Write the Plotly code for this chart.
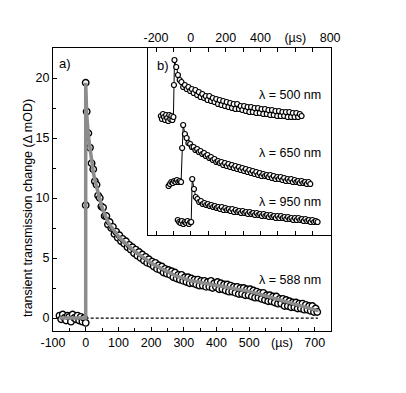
import plotly.graph_objects as go

# ---------------- main panel a) : lambda = 588 nm ----------------
t_base = [-80, -75, -70, -65, -60, -55, -50, -45, -40, -35, -30, -25, -20, -15, -10, -5]
v_base = [0.2, -0.1, 0.3, 0.0, -0.2, 0.2, 0.1, -0.3, 0.3, 0.0, -0.1, 0.2, -0.2, 0.1, -0.3, 0.0]
t_jump = [0, 0, 0]
v_jump = [-0.4, 9.4, 19.6]
v_decay = [
    17.2, 15.4, 14.2, 12.9, 12.4, 11.4, 11.1, 10.2, 10.0, 9.3,
    9.2, 8.5, 8.5, 7.8, 8.0, 7.5, 7.6, 7.0, 7.2, 6.7,
    6.9, 6.4, 6.6, 6.2, 6.4, 5.9, 6.1, 5.7, 5.9, 5.4,
    5.7, 5.2, 5.5, 5.0, 5.3, 4.8, 5.1, 4.6, 4.9, 4.5,
    4.7, 4.3, 4.6, 4.1, 4.4, 4.0, 4.3, 3.8, 4.1, 3.7,
    4.0, 3.6, 3.9, 3.4, 3.8, 3.3, 3.6, 3.2, 3.6, 3.1,
    3.4, 3.0, 3.4, 2.9, 3.3, 2.9, 3.2, 2.8, 3.2, 2.7,
    3.1, 2.7, 3.1, 2.6, 3.0, 2.6, 3.1, 2.5, 2.9, 2.6,
    3.0, 2.4, 2.9, 2.4, 2.8, 2.3, 2.8, 2.2, 2.7, 2.2,
    2.6, 2.1, 2.6, 2.0, 2.5, 2.0, 2.5, 1.9, 2.4, 1.9,
    2.4, 1.8, 2.3, 1.7, 2.2, 1.7, 2.1, 1.6, 2.1, 1.5,
    1.9, 1.4, 1.9, 1.4, 1.8, 1.3, 1.8, 1.2, 1.6, 1.2,
    1.6, 1.0, 1.5, 1.0, 1.4, 0.9, 1.3, 0.9, 1.3, 0.8,
    1.2, 0.8, 1.2, 0.7, 1.1, 0.7, 1.0, 0.6, 1.0, 0.5,
    0.8, 0.5,
]
t_decay = [3 + 5 * i for i in range(len(v_decay))]

t_fit = [-80, 0, 0, 3, 8, 13, 18, 23, 28, 33, 38, 43, 48, 53, 58, 63, 68, 73, 78, 83,
         88, 93, 98, 103, 113, 123, 133, 143, 153, 163, 173, 183, 193, 203, 213, 223,
         233, 243, 253, 263, 273, 283, 293, 303, 323, 343, 363, 383, 403, 423, 443,
         463, 483, 503, 523, 543, 563, 583, 603, 623, 643, 663, 683, 703, 712]
v_fit = [0, 0, 19.6, 17.0, 15.2, 14.0, 13.0, 12.2, 11.5, 10.9, 10.4, 9.9, 9.4, 9.0,
         8.6, 8.3, 8.0, 7.8, 7.6, 7.4, 7.2, 7.0, 6.85, 6.7, 6.45, 6.2, 5.95, 5.7, 5.5,
         5.3, 5.1, 4.9, 4.7, 4.55, 4.4, 4.25, 4.1, 3.95, 3.8, 3.7, 3.55, 3.45, 3.35,
         3.25, 3.1, 3.0, 2.9, 2.85, 2.75, 2.65, 2.5, 2.4, 2.3, 2.2, 2.05, 1.9, 1.75,
         1.6, 1.45, 1.3, 1.15, 1.0, 0.85, 0.7, 0.6]

t_zero = [0, 710]
v_zero = [0, 0]

main_xticks = [-100, 0, 100, 200, 300, 400, 500, 600, 700]
main_xtext = ["-100", "0", "100", "200", "300", "400", "500", "(µs)", "700"]
main_yticks = [0, 5, 10, 15, 20]

# ---------------- inset panel b) (arbitrary offset units) ----------------
t500_base = [-172, -166, -160, -154, -148, -142, -136, -130, -124, -118, -112, -106, -100, -97]
v500_base = [11.9, 11.6, 12.1, 11.8, 11.5, 12.0, 11.7, 11.4, 12.0, 11.6, 11.9, 11.5, 11.8, 15.0]
v500_decay = [
    17.5, 16.8, 16.0, 15.5, 15.3, 14.8, 15.0, 14.6, 14.8, 14.4,
    14.6, 14.2, 14.5, 14.0, 14.3, 13.8, 14.1, 13.7, 13.9, 13.5,
    13.9, 13.4, 13.7, 13.3, 13.6, 13.1, 13.5, 13.0, 13.4, 12.9,
    13.3, 12.8, 13.2, 12.7, 13.1, 12.6, 13.1, 12.6, 12.9, 12.5,
    12.9, 12.4, 12.8, 12.3, 12.8, 12.3, 12.7, 12.2, 12.7, 12.2,
    12.6, 12.1, 12.6, 12.1, 12.5, 12.0, 12.5, 12.0, 12.4, 11.9,
    12.4, 11.9, 12.3, 11.9, 12.3, 11.8, 12.3, 11.8, 12.2, 11.8,
    12.2, 11.8, 12.1, 11.9,
]
t500_decay = [-94 + 10 * i for i in range(len(v500_decay))]

t650_base = [-128, -120, -112, -104, -96, -88, -80, -72, -64, -56, -50]
v650_base = [4.9, 5.1, 5.3, 5.2, 5.4, 5.3, 5.5, 5.3, 5.4, 5.3, 8.7]
v650_decay = [
    11.0, 10.1, 9.7, 9.2, 9.1,
    8.8, 8.8, 8.5, 8.6, 8.3, 8.4, 8.1, 8.2, 7.9, 8.0,
    7.7, 7.8, 7.5, 7.6, 7.3, 7.4, 7.2, 7.3, 7.0, 7.2,
    6.9, 7.1, 6.8, 7.0, 6.7, 6.9, 6.6, 6.8, 6.5, 6.7,
    6.4, 6.6, 6.3, 6.5, 6.2, 6.4, 6.1, 6.3, 6.0, 6.2,
    5.9, 6.1, 5.9, 6.0, 5.8, 6.0, 5.7, 5.9, 5.6, 5.8,
    5.6, 5.8, 5.5, 5.7, 5.4, 5.6, 5.4, 5.6, 5.3, 5.5,
    5.3, 5.4, 5.2, 5.4, 5.2, 5.3, 5.1, 5.3, 5.1,
]
t650_decay = [-44 + 10 * i for i in range(len(v650_decay))]

t950_base = [-75, -67, -59, -51, -43, -35, -27, -19, -11, -3, 2]
v950_base = [1.5, 1.3, 1.2, 1.4, 1.1, 1.3, 1.2, 1.4, 1.1, 1.3, 1.3]
v950_decay = [
    5.6, 4.6, 3.8, 3.6, 3.3, 3.4, 3.1, 3.2, 3.0, 3.1,
    2.9, 3.0, 2.8, 2.9, 2.7, 2.8, 2.6, 2.8, 2.5, 2.7,
    2.5, 2.6, 2.4, 2.6, 2.3, 2.5, 2.3, 2.4, 2.2, 2.4,
    2.2, 2.3, 2.1, 2.3, 2.1, 2.2, 2.0, 2.2, 2.0, 2.1,
    1.9, 2.1, 1.9, 2.0, 1.8, 2.0, 1.8, 1.9, 1.7, 1.9,
    1.7, 1.9, 1.7, 1.8, 1.6, 1.8, 1.6, 1.7, 1.5, 1.7,
    1.5, 1.7, 1.5, 1.6, 1.4, 1.6, 1.4, 1.5, 1.3, 1.5,
    1.3, 1.4, 1.3,
]
t950_decay = [8 + 10 * i for i in range(len(v950_decay))]

inset_xticks = [-200, 0, 200, 400, 600, 800]
inset_xtext = ["-200", "0", "200", "400", "(µs)", "800"]

FONT = "Liberation Sans, Arial, sans-serif"
W, H = 406, 393


def px(x):
    return x / W


def py(y):
    return 1 - y / H


fig = go.Figure()

# main data
fig.add_trace(go.Scatter(
    x=t_base + t_jump + t_decay, y=v_base + v_jump + v_decay,
    mode="markers", xaxis="x", yaxis="y",
    marker=dict(symbol="circle", size=6.5, color="white",
                line=dict(color="black", width=1.4)),
    showlegend=False))
# zero line
fig.add_trace(go.Scatter(
    x=t_zero, y=v_zero, mode="lines", xaxis="x", yaxis="y",
    line=dict(color="black", width=1.2, dash="3px,2px"), showlegend=False))
# fit
fig.add_trace(go.Scatter(
    x=t_fit, y=v_fit, mode="lines", xaxis="x", yaxis="y",
    line=dict(color="#8c8c8c", width=3.5), showlegend=False))

# inset traces
for tb, vb, td, vd in [
    (t500_base, v500_base, t500_decay, v500_decay),
    (t650_base, v650_base, t650_decay, v650_decay),
    (t950_base, v950_base, t950_decay, v950_decay),
]:
    fig.add_trace(go.Scatter(
        x=tb + td, y=vb + vd, mode="lines+markers", xaxis="x2", yaxis="y2",
        line=dict(color="black", width=1),
        marker=dict(symbol="circle", size=5, color="white",
                    line=dict(color="black", width=1.2)),
        showlegend=False))

axis_common = dict(showline=True, linecolor="black", linewidth=1.3,
                   showgrid=False, zeroline=False, automargin=False,
                   tickfont=dict(family=FONT, size=12.5, color="black"))

fig.update_layout(
    template="none",
    width=W, height=H,
    margin=dict(l=0, r=0, t=0, b=0, autoexpand=False),
    paper_bgcolor="white", plot_bgcolor="white",
    font=dict(family=FONT, color="black"),
    xaxis=dict(domain=[px(45), px(323)], range=[-100, 750], anchor="y",
               mirror=True, ticks="inside", ticklen=4, tickcolor="black",
               tickmode="array", tickvals=main_xticks, ticktext=main_xtext,
               minor=dict(ticks="inside", ticklen=3, tick0=0, dtick=50,
                          tickcolor="black"),
               **axis_common),
    yaxis=dict(domain=[py(323), py(40)], range=[-1.08, 22.5], anchor="x",
               mirror=True, ticks="inside", ticklen=4, tickcolor="black",
               tickmode="array", tickvals=main_yticks,
               minor=dict(ticks="inside", ticklen=3, tick0=0, dtick=2.5,
                          tickcolor="black"),
               **axis_common),
    xaxis2=dict(domain=[px(140), px(323)], range=[-246, 805], anchor="y2",
                side="top", mirror="ticks", ticks="inside", ticklen=4,
                tickcolor="black",
                tickmode="array", tickvals=inset_xticks, ticktext=inset_xtext,
                minor=dict(ticks="inside", ticklen=4, tick0=0, dtick=100,
                           tickcolor="black"),
                **axis_common),
    yaxis2=dict(domain=[py(227), py(40)], range=[0, 18.7], anchor="x2",
                mirror=True, ticks="", showticklabels=False,
                **axis_common),
)

ann_font = dict(family=FONT, size=12.5, color="black")
annotations = [
    dict(text="transient transmission change (Δ mOD)", x=px(20), y=py(200),
         xref="paper", yref="paper", xanchor="center", yanchor="middle",
         textangle=-90, showarrow=False, font=ann_font),
    dict(text="a)", x=px(57), y=py(56), xref="paper", yref="paper",
         xanchor="center", yanchor="middle",
         showarrow=False, font=dict(family=FONT, size=13, color="black")),
    dict(text="b)", x=px(155), y=py(57), xref="paper", yref="paper",
         xanchor="center", yanchor="middle",
         showarrow=False, font=dict(family=FONT, size=13, color="black")),
    dict(text="λ = 588 nm", x=626, y=3.2, xref="x", yref="y",
         showarrow=False, font=ann_font),
    dict(text="λ = 500 nm", x=570, y=14.0, xref="x2", yref="y2",
         showarrow=False, font=ann_font),
    dict(text="λ = 650 nm", x=570, y=8.2, xref="x2", yref="y2",
         showarrow=False, font=ann_font),
    dict(text="λ = 950 nm", x=570, y=3.3, xref="x2", yref="y2",
         showarrow=False, font=ann_font),
]
fig.update_layout(annotations=annotations)

fig.write_html("out.html")
